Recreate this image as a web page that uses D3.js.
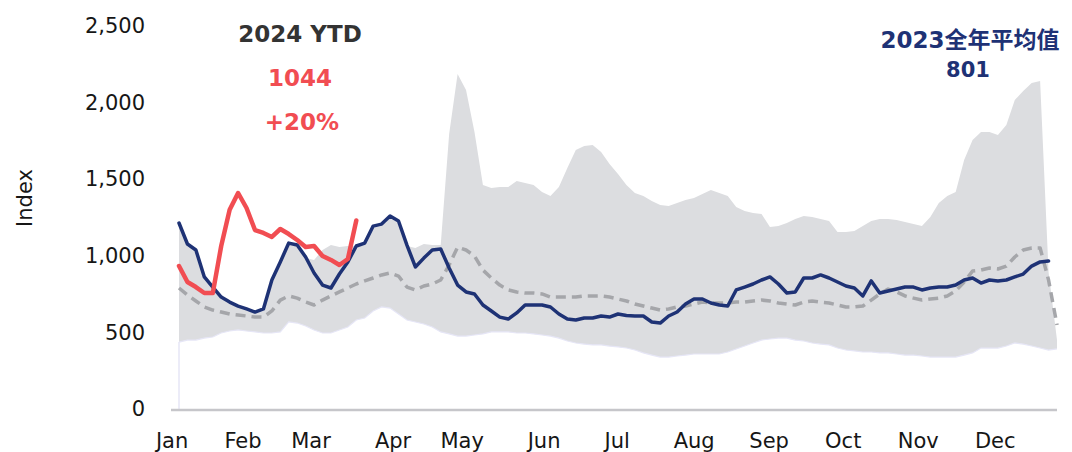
<!DOCTYPE html>
<html>
<head>
<meta charset="utf-8">
<script src="https://cdn.jsdelivr.net/npm/d3@7"></script>
<style>
  body { margin: 0; background: #fff; }
  svg { display: block; font-family: "DejaVu Sans", sans-serif; }
</style>
</head>
<body>
<svg id="chart" width="1072" height="452"></svg>
<script>
// half-week samples, Jan -> Dec
var bandHigh = [1214,1070,1031,855,783,724,692,666,646,627,646,829,946,1070,1070,985,973,1038,1070,1057,
  1064,1064,1077,1181,1194,1247,1214,1064,1051,1077,1070,1070,1795,2187,2082,1808,1462,1442,1449,1449,
  1488,1475,1462,1416,1390,1449,1573,1690,1717,1723,1677,1599,1534,1462,1410,1390,1358,1332,1325,1345,
  1364,1377,1403,1429,1410,1390,1318,1292,1279,1273,1188,1194,1214,1240,1260,1253,1240,1227,1155,1155,
  1162,1194,1227,1240,1240,1234,1221,1207,1194,1253,1345,1390,1416,1625,1756,1808,1808,1788,1854,2017,
  2076,2128,2141,894,450]
var bandLow = [437,450,450,463,470,496,509,516,509,503,496,496,503,568,561,542,516,496,496,516,
  535,581,594,640,666,659,620,581,568,555,535,503,490,476,476,483,490,503,503,503,
  496,496,490,483,476,463,444,431,424,418,418,411,405,398,385,366,352,339,339,346,
  352,359,359,359,359,372,392,411,431,450,457,463,463,450,444,431,424,418,398,385,
  379,372,372,366,366,359,352,352,346,339,339,339,339,352,366,398,398,398,411,431,
  424,411,398,385,392]
var avgPrev = [790,744,705,666,646,633,620,614,607,600,600,640,711,738,724,698,679,711,738,764,
  790,816,836,855,875,888,868,796,777,803,816,842,940,1057,1038,999,907,855,809,777,
  764,757,757,751,731,731,731,731,738,738,738,731,718,705,685,672,659,646,653,666,
  672,685,698,692,692,692,698,698,705,711,705,692,685,679,698,705,698,692,679,666,
  666,672,711,751,783,764,738,724,711,718,724,738,770,829,901,907,920,914,933,992,
  1038,1051,1051,842,548]
var y2023 = [1214,1077,1038,862,796,731,698,672,653,633,653,842,960,1083,1070,992,888,809,790,881,
  960,1064,1083,1194,1207,1260,1227,1070,927,985,1038,1044,920,809,764,751,679,640,600,587,
  627,679,679,679,666,620,587,581,594,594,607,600,620,610,607,607,568,561,607,633,
  685,718,718,692,679,672,777,796,816,842,862,816,757,764,855,855,875,855,829,803,
  790,738,836,757,770,783,796,796,777,790,796,796,809,842,855,822,842,836,842,862,
  881,933,960,966]
var y2024 = [933,829,796,757,757,1064,1300,1410,1312,1168,1149,1123,1175,1142,1103,1057,1064,999,973,940,979,1230]

var monthNames = ["Jan","Feb","Mar","Apr","May","Jun","Jul","Aug","Sep","Oct","Nov","Dec"]
var monthWeeks = [-0.41,3.79,7.82,12.68,16.77,21.62,25.95,30.51,34.95,39.34,43.78,48.34]
var yTicks = [0,500,1000,1500,2000,2500]

var svg = d3.select("#chart")
var x = d3.scaleLinear().domain([0, 52]).range([179, 1057])
var y = d3.scaleLinear().domain([0, 2500]).range([409, 26])
var wk = i => i / 2

// band of previous years
var area = d3.area()
  .x((d, i) => x(wk(i)))
  .y0((d, i) => y(bandLow[i]))
  .y1(d => y(d))
svg.append("path")
  .attr("d", area(bandHigh))
  .attr("fill", "#dcdde0")

var line = d3.line()
  .x((d, i) => x(wk(i)))
  .y(d => y(d))

svg.append("path")
  .attr("d", line(bandLow))
  .attr("fill", "none")
  .attr("stroke", "#e6e6f6")
  .attr("stroke-width", 1.2)
svg.append("line")
  .attr("x1", x(0)).attr("x2", x(0))
  .attr("y1", y(0)).attr("y2", y(bandLow[0]))
  .attr("stroke", "#e6e6f6")
  .attr("stroke-width", 1.5)

// x axis line
svg.append("line")
  .attr("x1", 171).attr("x2", 1057)
  .attr("y1", y(0) + 1).attr("y2", y(0) + 1)
  .attr("stroke", "#c6c6ca")
  .attr("stroke-width", 2.5)

svg.append("path")
  .attr("d", line(avgPrev))
  .attr("fill", "none")
  .attr("stroke", "#a5a6aa")
  .attr("stroke-width", 3.5)
  .attr("stroke-dasharray", "10,6")
  .attr("stroke-linejoin", "round")

svg.append("path")
  .attr("d", line(y2023))
  .attr("fill", "none")
  .attr("stroke", "#1e3275")
  .attr("stroke-width", 3.5)
  .attr("stroke-linejoin", "round")
  .attr("stroke-linecap", "round")

svg.append("path")
  .attr("d", line(y2024))
  .attr("fill", "none")
  .attr("stroke", "#f14d52")
  .attr("stroke-width", 4.5)
  .attr("stroke-linejoin", "round")
  .attr("stroke-linecap", "round")

// y axis labels
var yAxis = d3.axisLeft(y).tickValues(yTicks).tickSize(0).tickPadding(0)
  .tickFormat(d3.format(","))
svg.append("g")
  .attr("transform", "translate(145,0)")
  .call(yAxis)
  .call(g => g.select(".domain").remove())
  .call(g => g.selectAll("text")
    .attr("font-family", "'DejaVu Sans', sans-serif")
    .attr("font-size", 21).attr("fill", "#161616"))

// month labels
svg.append("g").selectAll("text")
  .data(monthNames)
  .enter().append("text")
  .attr("x", (d, i) => x(monthWeeks[i]))
  .attr("y", 448)
  .attr("text-anchor", "middle")
  .attr("font-size", 21)
  .attr("fill", "#161616")
  .text(d => d)

svg.append("text")
  .attr("transform", "translate(32,198) rotate(-90)")
  .attr("text-anchor", "middle")
  .attr("font-size", 21)
  .attr("fill", "#161616")
  .text("Index")

// annotations
svg.append("text").attr("x", 300).attr("y", 42).attr("text-anchor", "middle")
  .attr("font-size", 23).attr("font-weight", "bold").attr("fill", "#333")
  .text("2024 YTD")
svg.append("text").attr("x", 300).attr("y", 86).attr("text-anchor", "middle")
  .attr("font-size", 23).attr("font-weight", "bold").attr("fill", "#f14d52")
  .text("1044")
svg.append("text").attr("x", 302).attr("y", 130).attr("text-anchor", "middle")
  .attr("font-size", 23).attr("font-weight", "bold").attr("fill", "#f14d52")
  .text("+20%")
svg.append("text").attr("x", 970).attr("y", 48).attr("text-anchor", "middle")
  .attr("font-family", "'DejaVu Sans', 'Noto Sans CJK SC', sans-serif")
  .attr("font-size", 23).attr("font-weight", "bold").attr("fill", "#1e3275")
  .text("2023全年平均值")
svg.append("text").attr("x", 968).attr("y", 77).attr("text-anchor", "middle")
  .attr("font-size", 21).attr("font-weight", "bold").attr("fill", "#1e3275")
  .text("801")
</script>
</body>
</html>
